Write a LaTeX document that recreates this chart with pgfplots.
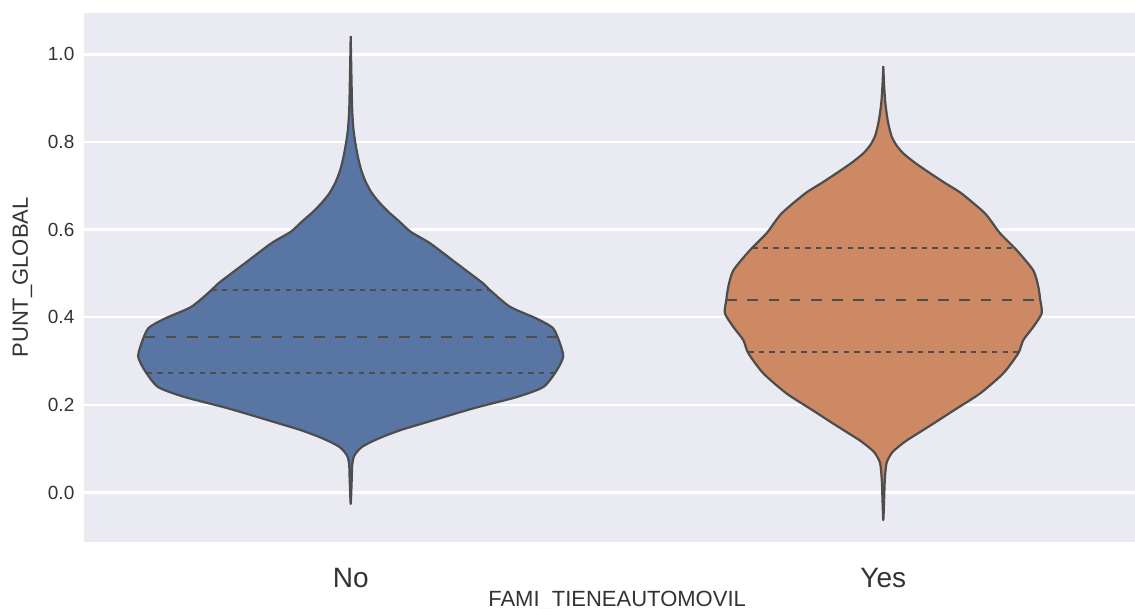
\documentclass[border=0pt]{standalone}
\usepackage{pgfplots}
\pgfplotsset{compat=1.18}
\usepackage{fontspec}
\setmainfont{Liberation Sans}
\definecolor{bg}{HTML}{EAEAF2}
\definecolor{vblue}{HTML}{5975A4}
\definecolor{vorange}{HTML}{CC8963}
\definecolor{vline}{HTML}{4D4D4D}
\definecolor{txt}{HTML}{333333}
\begin{document}
\begin{tikzpicture}
\begin{axis}[
  at={(0pt,0pt)}, anchor=south west,
  scale only axis, width=525.3pt, height=264.6pt,
  xmin=-0.5, xmax=1.4726, ymin=-0.113, ymax=1.095,
  axis line style={draw=none},
  major tick length=0pt,
  axis background/.style={fill=bg},
  ymajorgrids, grid style={white, line width=1.2pt},
  xtick={0,1}, xticklabels={No,Yes},
  ytick={0,0.2,0.4,0.6,0.8,1.0},
  /pgf/number format/fixed, /pgf/number format/fixed zerofill, /pgf/number format/precision=1, /pgf/number format/assume math mode=true,
  yticklabel style={font=\fontsize{9.5}{11}\selectfont, text=txt, xshift=-1.5pt},
  xticklabel style={font=\fontsize{14}{16}\selectfont, text=txt, anchor=base, yshift=-23pt},
  every axis y label/.style={at={(axis description cs:-0.059,0.5)}, rotate=90, anchor=center, font=\fontsize{11}{13}\selectfont, text=txt},
  every axis x label/.style={at={(axis description cs:0.507,-0.121)}, anchor=base, font=\fontsize{11}{13}\selectfont, text=txt},
  ylabel={PUNT\_GLOBAL},
  xlabel={FAMI\_TIENEAUTOMOVIL},
]
% No violin
\addplot[draw=vline, line width=1.1pt, line join=round, fill=vblue, smooth, tension=0.4] coordinates {
(0,1.042) (0.0015,0.942) (0.0028,0.873) (0.0053,0.827) (0.0094,0.793) (0.0141,0.763) (0.0197,0.736) (0.0282,0.709) (0.0394,0.684) (0.0545,0.661) (0.0713,0.640) (0.0901,0.620) (0.1127,0.595) (0.1489,0.569) (0.199,0.523) (0.249,0.477) (0.2615,0.462) (0.299,0.424) (0.349,0.397) (0.380,0.375) (0.393,0.340) (0.399,0.310) (0.387,0.279) (0.362,0.241) (0.312,0.218) (0.230,0.192) (0.136,0.158) (0.0939,0.1425) (0.0601,0.1272) (0.0376,0.1151) (0.0207,0.1037) (0.0113,0.0922) (0.0056,0.0808) (0.0028,0.0626) (0.0019,0.0283) (0,-0.026)
(-0.0019,0.0283) (-0.0028,0.0626) (-0.0056,0.0808) (-0.0113,0.0922) (-0.0207,0.1037) (-0.0376,0.1151) (-0.0601,0.1272) (-0.0939,0.1425) (-0.136,0.158) (-0.230,0.192) (-0.312,0.218) (-0.362,0.241) (-0.387,0.279) (-0.399,0.310) (-0.393,0.340) (-0.380,0.375) (-0.349,0.397) (-0.299,0.424) (-0.2615,0.462) (-0.249,0.477) (-0.199,0.523) (-0.1489,0.569) (-0.1127,0.595) (-0.0901,0.620) (-0.0713,0.640) (-0.0545,0.661) (-0.0394,0.684) (-0.0282,0.709) (-0.0197,0.736) (-0.0141,0.763) (-0.0094,0.793) (-0.0053,0.827) (-0.0028,0.873) (-0.0015,0.942) (0,1.042)
};
% Yes violin
\addplot[draw=vline, line width=1.1pt, line join=round, fill=vorange, smooth, tension=0.4] coordinates {
(1,0.973) (1.0015,0.930) (1.0038,0.889) (1.0075,0.855) (1.0113,0.832) (1.016,0.812) (1.0244,0.793) (1.0376,0.774) (1.0601,0.752) (1.0877,0.729) (1.1164,0.706) (1.1464,0.683) (1.191,0.637) (1.219,0.592) (1.2505,0.553) (1.2816,0.507) (1.291,0.470) (1.2948,0.439) (1.2974,0.409) (1.2816,0.378) (1.2629,0.348) (1.2535,0.318) (1.2253,0.272) (1.1816,0.226) (1.133,0.188) (1.095,0.158) (1.0715,0.140) (1.045,0.1196) (1.030,0.106) (1.016,0.0904) (1.006,0.0671) (1.0028,0.0283) (1.0015,-0.0174) (1,-0.063)
(0.9985,-0.0174) (0.9972,0.0283) (0.994,0.0671) (0.984,0.0904) (0.970,0.106) (0.955,0.1196) (0.9285,0.140) (0.905,0.158) (0.867,0.188) (0.8184,0.226) (0.7747,0.272) (0.7465,0.318) (0.7371,0.348) (0.7184,0.378) (0.7026,0.409) (0.7052,0.439) (0.709,0.470) (0.7184,0.507) (0.7495,0.553) (0.781,0.592) (0.809,0.637) (0.8536,0.683) (0.8836,0.706) (0.9123,0.729) (0.9399,0.752) (0.9624,0.774) (0.9756,0.793) (0.984,0.812) (0.9887,0.832) (0.9925,0.855) (0.9962,0.889) (0.9985,0.930) (1,0.973)
};
% quartile lines No
\addplot[vline, line width=1.1pt, dash pattern=on 2.65pt off 2.65pt] coordinates {(-0.2615,0.462) (0.2615,0.462)};
\addplot[vline, line width=1.1pt, dash pattern=on 5.3pt off 5.3pt] coordinates {(-0.387,0.355) (0.387,0.355)};
\addplot[vline, line width=1.1pt, dash pattern=on 2.65pt off 2.65pt] coordinates {(-0.383,0.273) (0.383,0.273)};
% quartile lines Yes
\addplot[vline, line width=1.1pt, dash pattern=on 2.65pt off 2.65pt] coordinates {(0.754,0.559) (1.246,0.559)};
\addplot[vline, line width=1.1pt, dash pattern=on 5.3pt off 5.3pt] coordinates {(0.7052,0.439) (1.2948,0.439)};
\addplot[vline, line width=1.1pt, dash pattern=on 2.65pt off 2.65pt] coordinates {(0.7465,0.320) (1.2535,0.320)};
\end{axis}
\pgfresetboundingbox
\path[use as bounding box] (-42.2pt,-33.5pt) rectangle (525.3pt,271pt);
\end{tikzpicture}
\end{document}
